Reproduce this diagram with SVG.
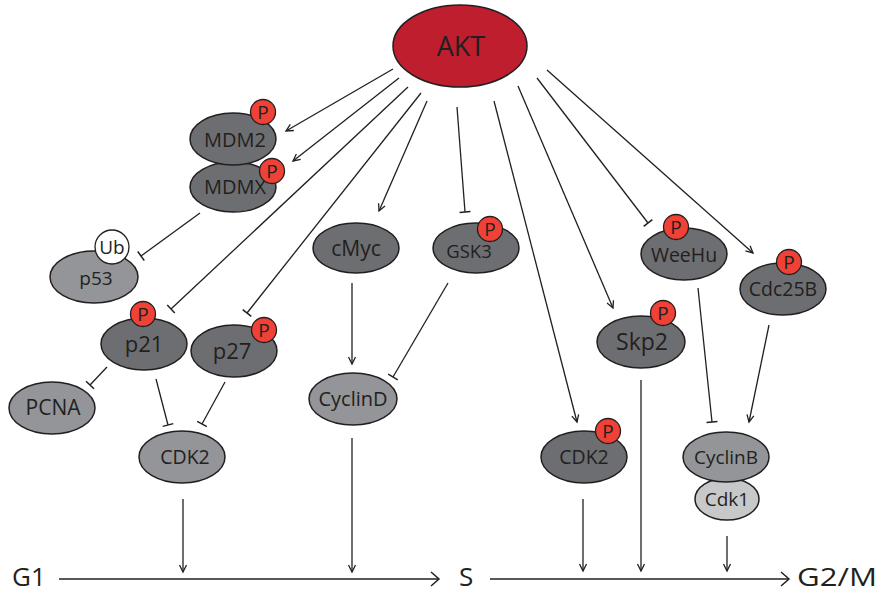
<svg xmlns="http://www.w3.org/2000/svg" width="880" height="594" viewBox="0 0 880 594">
<style>
text{font-family:"Open Sans","Liberation Sans",sans-serif;fill:#231F20;text-anchor:middle}
.n{stroke:#231F20;stroke-width:1.5}
.dk{fill:#6D6E71}
.md{fill:#939598}
.lt{fill:#C7C8CA}
.akt{fill:#BE1E2D}
.p{fill:#EF4136;stroke:#231F20;stroke-width:1.3}
.ub{fill:#FFFFFF;stroke:#231F20;stroke-width:1.3}
.pt{font-size:19px}
.c{fill:none;stroke:#231F20;stroke-width:1.3}
.a{marker-end:url(#arr)}
.t{marker-end:url(#tee)}
.ax{fill:none;stroke:#231F20;stroke-width:1.5;marker-end:url(#axarr)}
.lab{font-size:26px;text-anchor:start}
</style>
<defs>
<marker id="arr" markerUnits="userSpaceOnUse" viewBox="-9 -6 11 12" refX="0" refY="0" markerWidth="11" markerHeight="12" orient="auto" overflow="visible">
<path d="M-7,-3.5 L0,0 L-7,3.5" fill="none" stroke="#231F20" stroke-width="1.3"/>
</marker>
<marker id="tee" markerUnits="userSpaceOnUse" viewBox="-2 -7 4 14" refX="0" refY="0" markerWidth="4" markerHeight="14" orient="auto" overflow="visible">
<path d="M0,-5.5 L0,5.5" fill="none" stroke="#231F20" stroke-width="1.5"/>
</marker>
<marker id="axarr" markerUnits="userSpaceOnUse" viewBox="-12 -9 14 18" refX="0" refY="0" markerWidth="14" markerHeight="18" orient="auto" overflow="visible">
<path d="M-8,-7 L0,0 L-8,7" fill="none" stroke="#231F20" stroke-width="1.5"/>
</marker>
</defs>
<rect width="880" height="594" fill="#FFFFFF"/>

<g id="connectors">
<line class="c a" x1="393" y1="69" x2="286" y2="131"/>
<line class="c a" x1="399" y1="78" x2="293" y2="161"/>
<line class="c t" x1="408" y1="87" x2="171" y2="309"/>
<line class="c t" x1="421" y1="93" x2="247" y2="313"/>
<line class="c a" x1="427" y1="101" x2="379" y2="211"/>
<line class="c t" x1="457" y1="107" x2="465" y2="212"/>
<line class="c a" x1="494" y1="101" x2="577" y2="422"/>
<line class="c a" x1="518" y1="86" x2="613" y2="308"/>
<line class="c t" x1="537" y1="78" x2="648" y2="223"/>
<line class="c a" x1="547" y1="70" x2="753" y2="253"/>
<line class="c t" x1="200" y1="213" x2="141" y2="256"/>
<line class="c t" x1="107" y1="367" x2="90" y2="385"/>
<line class="c t" x1="156" y1="379" x2="168" y2="425"/>
<line class="c t" x1="225" y1="382" x2="202" y2="424"/>
<line class="c a" x1="352" y1="283" x2="352" y2="364"/>
<line class="c t" x1="448" y1="283" x2="393" y2="377"/>
<line class="c a" x1="183" y1="499" x2="183" y2="572"/>
<line class="c a" x1="352" y1="438" x2="352" y2="572"/>
<line class="c a" x1="583" y1="499" x2="583" y2="571"/>
<line class="c a" x1="641" y1="380" x2="641" y2="571"/>
<line class="c t" x1="698" y1="288" x2="712" y2="422"/>
<line class="c a" x1="769" y1="325" x2="749" y2="422"/>
<line class="c a" x1="727" y1="536" x2="727" y2="571"/>
<line class="ax" x1="59" y1="579" x2="439" y2="579"/>
<line class="ax" x1="490" y1="579" x2="789" y2="579"/>
</g>

<g id="AKT">
<ellipse class="n akt" cx="460" cy="46" rx="67" ry="41"/>
<text x="461" y="56" font-size="27">AKT</text>
</g>
<g id="MDMX">
<ellipse class="n dk" cx="233" cy="187" rx="43" ry="25"/>
<text x="235" y="194" font-size="20">MDMX</text>
<circle class="p" cx="272" cy="171" r="12.5"/>
<text class="pt" x="272" y="178">P</text>
</g>
<g id="MDM2">
<ellipse class="n dk" cx="233" cy="139" rx="43" ry="26"/>
<text x="235" y="147" font-size="20">MDM2</text>
<circle class="p" cx="263" cy="112" r="12.5"/>
<text class="pt" x="263" y="119">P</text>
</g>
<g id="p53">
<ellipse class="n md" cx="94" cy="277" rx="44" ry="26"/>
<text x="96" y="285" font-size="19">p53</text>
<circle class="ub" cx="112" cy="247" r="17"/>
<text x="112" y="254" font-size="19">Ub</text>
</g>
<g id="p21">
<ellipse class="n dk" cx="144" cy="344" rx="43" ry="26"/>
<text x="144" y="352" font-size="22">p21</text>
<circle class="p" cx="143" cy="314" r="12.5"/>
<text class="pt" x="143" y="321">P</text>
</g>
<g id="p27">
<ellipse class="n dk" cx="234" cy="351" rx="43" ry="26"/>
<text x="232" y="359" font-size="22">p27</text>
<circle class="p" cx="264" cy="330" r="12.5"/>
<text class="pt" x="264" y="337">P</text>
</g>
<g id="PCNA">
<ellipse class="n md" cx="52" cy="408" rx="43" ry="26"/>
<text x="53" y="415" font-size="21">PCNA</text>
</g>
<g id="CDK2-left">
<ellipse class="n md" cx="182" cy="457" rx="43" ry="26"/>
<text x="185" y="464" font-size="19.5">CDK2</text>
</g>
<g id="cMyc">
<ellipse class="n dk" cx="356" cy="248" rx="43" ry="25"/>
<text x="356" y="256" font-size="21">cMyc</text>
</g>
<g id="GSK3">
<ellipse class="n dk" cx="476" cy="248" rx="43" ry="25"/>
<text x="469" y="258" font-size="18.5">GSK3</text>
<circle class="p" cx="490" cy="229" r="12.5"/>
<text class="pt" x="490" y="236">P</text>
</g>
<g id="CyclinD">
<ellipse class="n md" cx="353" cy="399" rx="44" ry="26"/>
<text x="353" y="406" font-size="20">CyclinD</text>
</g>
<g id="WeeHu">
<ellipse class="n dk" cx="684" cy="254" rx="43" ry="26"/>
<text x="684" y="262" font-size="19.5">WeeHu</text>
<circle class="p" cx="676" cy="227" r="12.5"/>
<text class="pt" x="676" y="234">P</text>
</g>
<g id="Cdc25B">
<ellipse class="n dk" cx="783" cy="289" rx="43" ry="26"/>
<text x="783" y="296" font-size="19.5">Cdc25B</text>
<circle class="p" cx="789" cy="262" r="12.5"/>
<text class="pt" x="789" y="269">P</text>
</g>
<g id="Skp2">
<ellipse class="n dk" cx="641" cy="342" rx="44" ry="26"/>
<text x="642" y="350" font-size="23">Skp2</text>
<circle class="p" cx="663" cy="313" r="12.5"/>
<text class="pt" x="663" y="320">P</text>
</g>
<g id="CDK2-right">
<ellipse class="n dk" cx="584" cy="457" rx="43" ry="26"/>
<text x="584" y="464" font-size="19.5">CDK2</text>
<circle class="p" cx="608" cy="431" r="12.5"/>
<text class="pt" x="608" y="438">P</text>
</g>
<g id="Cdk1">
<ellipse class="n lt" cx="727" cy="499" rx="32" ry="21"/>
<text x="727" y="506" font-size="19">Cdk1</text>
</g>
<g id="CyclinB">
<ellipse class="n md" cx="726" cy="457" rx="43" ry="25"/>
<text x="726" y="464" font-size="19">CyclinB</text>
</g>
<g id="phases">
<text class="lab" x="12" y="586">G1</text>
<text class="lab" x="459" y="586">S</text>
<text class="lab" x="797" y="586" textLength="80" lengthAdjust="spacingAndGlyphs">G2/M</text>
</g>
</svg>
